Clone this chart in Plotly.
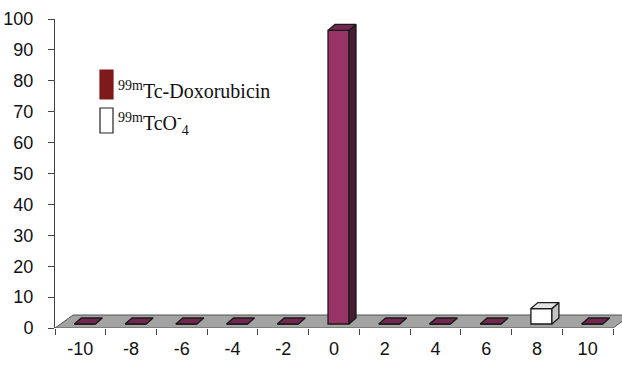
import plotly.graph_objects as go

# ---- data ----
positions = [-10, -8, -6, -4, -2, 0, 2, 4, 6, 8, 10]
doxorubicin = [0, 0, 0, 0, 0, 95, 0, 0, 0, None, 0]
pertechnetate = [None, None, None, None, None, None, None, None, None, 5, None]
y_ticks = [0, 10, 20, 30, 40, 50, 60, 70, 80, 90, 100]

# ---- geometry / style (pixel-derived) ----
L, R, T, B = 55, 0, 19, 37
W, H = 622, 365
xr = [-11, 11.355]
yr = [0, 100]
pxu_x = (W - L - R) / (xr[1] - xr[0])
pxu_y = (H - T - B) / (yr[1] - yr[0])

bar_off = -6 / pxu_x
bar_w = 21 / pxu_x
depth_dx = 7 / pxu_x
depth_dy = 6 / pxu_y
base = 4 / pxu_y
floor_dx = 18 / pxu_x
floor_dy = 13 / pxu_y

edge = "#1a1a1a"
series = [
    dict(name="99mTc-Doxorubicin", vals=doxorubicin, front="#993366", top="#722750", side="#4b1a33"),
    dict(name="99mTcO4-", vals=pertechnetate, front="#ffffff", top="#e4e4e4", side="#c4c4c4"),
]

fig = go.Figure()

for s in series:
    xs = [p for p, v in zip(positions, s["vals"]) if v is not None]
    vs = [v for v in s["vals"] if v is not None]
    fig.add_trace(go.Bar(
        x=xs, y=vs, base=[base] * len(vs), offset=bar_off, width=bar_w,
        marker=dict(color=s["front"], line=dict(color=edge, width=1.3)),
        showlegend=False, hoverinfo="skip"))
    tx, ty, sx, sy = [], [], [], []
    for p, v in zip(xs, vs):
        lft = p + bar_off
        rgt = lft + bar_w
        top = base + v
        tx += [lft, rgt, rgt + depth_dx, lft + depth_dx, lft, None]
        ty += [top, top, top + depth_dy, top + depth_dy, top, None]
        if v > 0:
            sx += [rgt, rgt + depth_dx, rgt + depth_dx, rgt, rgt, None]
            sy += [base, base + depth_dy, top + depth_dy, top, base, None]
    if sx:
        fig.add_trace(go.Scatter(x=sx, y=sy, mode="lines", fill="toself",
                                 fillcolor=s["side"], line=dict(color=edge, width=1.3),
                                 showlegend=False, hoverinfo="skip"))
    fig.add_trace(go.Scatter(x=tx, y=ty, mode="lines", fill="toself",
                             fillcolor=s["top"], line=dict(color=edge, width=1.3),
                             showlegend=False, hoverinfo="skip"))

# floor
x0, x1 = -11, 11
fig.add_shape(type="path", xref="x", yref="y", layer="below",
              path=f"M {x0},0 L {x1},0 L {x1 + floor_dx},{floor_dy} L {x0 + floor_dx},{floor_dy} Z",
              fillcolor="#a3a3a3", line=dict(color="#555555", width=1))

# legend (drawn manually)
def px2paper(px, py):
    return (px - L) / (W - L - R), (H - B - py) / (H - T - B)

for (px0, py0, px1, py1, col) in [(100, 70, 113, 99, "#7f1a1a"), (100, 108, 113, 133, "#ffffff")]:
    a = px2paper(px0, py1)
    b = px2paper(px1, py0)
    fig.add_shape(type="rect", xref="paper", yref="paper", x0=a[0], y0=a[1], x1=b[0], y1=b[1],
                  fillcolor=col, line=dict(color="#7f1a1a" if col != "#ffffff" else "#222222", width=1.2))

leg_font = dict(family="Liberation Serif, Times New Roman, serif", size=20, color="#111111")
for txt, py in [("<sup>99m</sup>Tc-Doxorubicin", 90), ("<sup>99m</sup>TcO<sup>-</sup><sub>4</sub>", 124)]:
    a = px2paper(116, py)
    fig.add_annotation(x=a[0], y=a[1], xref="paper", yref="paper", text=txt, showarrow=False,
                       xanchor="left", yanchor="middle", font=leg_font)

fig.update_layout(
    width=W, height=H, margin=dict(l=L, r=R, t=T, b=B),
    plot_bgcolor="white", paper_bgcolor="white",
    barmode="overlay", showlegend=False,
    font=dict(family="Liberation Sans, Arial, sans-serif", size=18, color="#111111"),
    xaxis=dict(range=xr, tickvals=positions, ticktext=[str(p) for p in positions],
               ticks="", showgrid=False, zeroline=False, showline=False,
               ticklabelstandoff=8,
               minor=dict(tick0=-11, dtick=2, ticks="outside", ticklen=6, tickcolor="#444444"),
               tickfont=dict(size=18)),
    yaxis=dict(range=yr, tickvals=y_ticks, ticks="outside", ticklen=6, tickcolor="#444444",
               showline=True, linecolor="#444444", linewidth=1, showgrid=False, zeroline=False,
               ticklabelstandoff=11, tickfont=dict(size=18)),
)

fig.write_html("out.html")
